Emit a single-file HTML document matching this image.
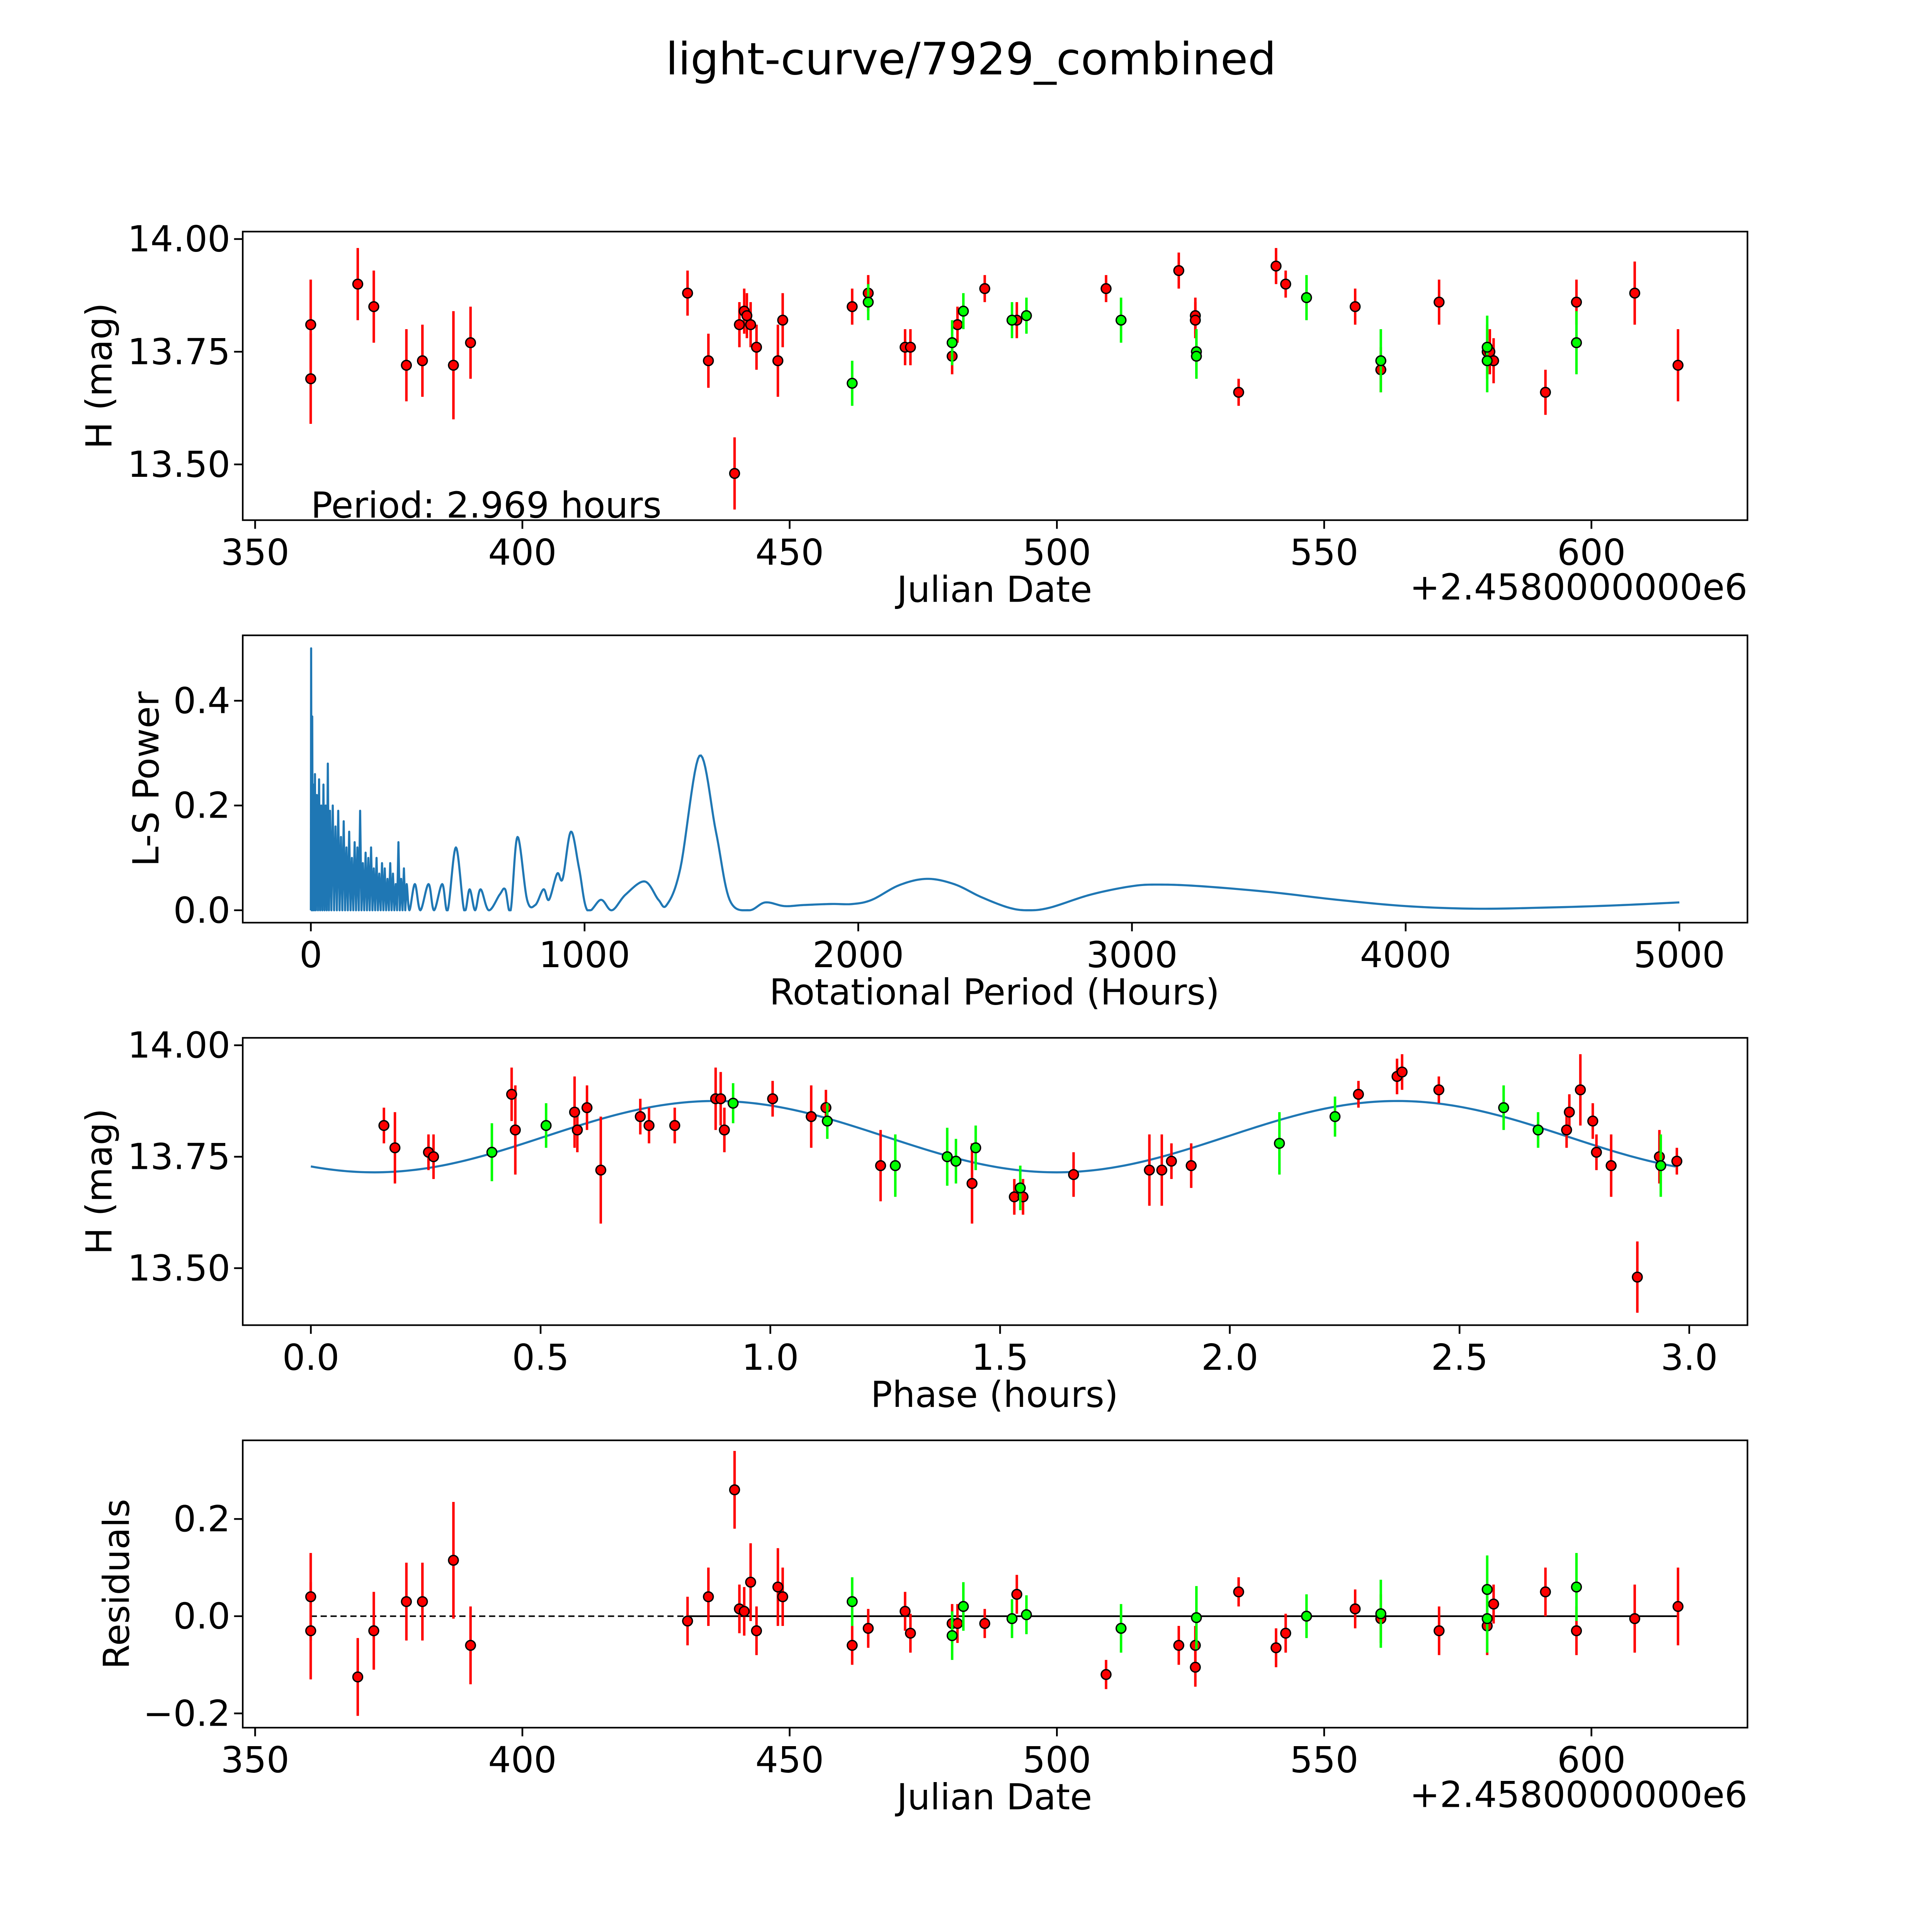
<!DOCTYPE html>
<html><head><meta charset="utf-8"><style>
html,body{margin:0;padding:0;background:#fff;width:100%;height:100%;overflow:hidden}
svg{display:block;position:absolute;left:0;top:0;width:100vw;height:100vh}
text{font-family:"DejaVu Sans","Liberation Sans",sans-serif;fill:#000}
</style></head><body>
<svg id="chart" xmlns="http://www.w3.org/2000/svg" viewBox="0 0 1560 1560" preserveAspectRatio="xMidYMid meet">
<rect width="1560" height="1560" fill="#fff"/>
<text x="784" y="60" font-size="36" text-anchor="middle">light-curve/7929_combined</text>
</svg>
<script>
// ---- panel 1 data: date, mag, err ----
const redDates=[360.4,360.4,369.2,372.2,378.3,381.3,387.1,390.3,430.9,434.8,439.7,440.6,441.5,442,442.7,443.8,447.8,448.7,461.7,464.7,471.6,472.6,480.4,481.4,486.5,492.5,509.2,522.8,525.9,525.9,534,541,542.8,555.8,560.6,571.5,580.5,581,581.7,591.4,597.2,608.1,616.2];
const redMags=[13.81,13.69,13.90,13.85,13.72,13.73,13.72,13.77,13.88,13.73,13.48,13.81,13.84,13.83,13.81,13.76,13.73,13.82,13.85,13.88,13.76,13.76,13.74,13.81,13.89,13.82,13.89,13.93,13.83,13.82,13.66,13.94,13.90,13.85,13.71,13.86,13.75,13.75,13.73,13.66,13.86,13.88,13.72];
const redErrs=[0.1,0.1,0.08,0.08,0.08,0.08,0.12,0.08,0.05,0.06,0.08,0.05,0.05,0.05,0.05,0.05,0.08,0.06,0.04,0.04,0.04,0.04,0.04,0.04,0.03,0.04,0.03,0.04,0.04,0.04,0.03,0.04,0.03,0.04,0.05,0.05,0.06,0.05,0.05,0.05,0.05,0.07,0.08];
const greenDates=[461.7,464.7,480.4,482.5,491.6,494.3,512,526.1,526.1,546.7,560.6,580.5,580.5,597.2];
const greenMags=[13.68,13.86,13.77,13.84,13.82,13.83,13.82,13.75,13.74,13.87,13.73,13.76,13.73,13.77];
const greenErrs=[0.05,0.04,0.05,0.04,0.04,0.04,0.05,0.05,0.05,0.05,0.07,0.07,0.07,0.07];
// ---- panel 2: periodogram ----
const lsPeriods=[0,1,3,5,7,9,12,15,18,22,26,30,34,38,42,46,50,54,58,62,66,70,75,80,85,90,95,100,105,110,115,120,125,130,135,140,145,150,155,160,165,170,175,180,185,190,195,200,205,210,215,220,225,230,235,240,245,250,255,260,265,270,275,280,285,290,295,300,305,310,315,320,325,330,335,340,345,350,
360,380,400,430,450,480,500,530,560,580,600,620,650,690,710,730,755,790,820,850,870,900,920,950,980,1010,1060,1100,1150,1220,1270,1300,1350,1420,1480,1530,1600,1660,1730,1800,1900,1980,2050,2150,2250,2350,2450,2550,2620,2700,2850,3000,3100,3250,3500,3750,4000,4250,4500,4750,5000];
const lsPower=[0,0.5,0,0.37,0,0.24,0,0.26,0,0.22,0,0.25,0,0.2,0,0.24,0,0.2,0,0.28,0,0.19,0,0.2,0,0.16,0,0.19,0,0.14,0,0.17,0,0.12,0,0.15,0,0.1,0,0.13,0,0.12,0,0.19,0,0.09,0,0.11,0,0.1,0,0.12,0,0.08,0,0.1,0,0.07,0,0.09,0,0.08,0,0.06,0,0.09,0,0.07,0,0.05,0,0.13,0,0.06,0,0.08,0,0.05,
0,0.05,0,0.05,0,0.05,0,0.12,0,0.04,0,0.04,0,0.03,0.04,0,0.14,0.02,0.01,0.04,0.02,0.07,0.06,0.15,0.08,0,0.02,0,0.03,0.055,0.02,0.01,0.08,0.295,0.15,0.02,0,0.015,0.008,0.01,0.012,0.012,0.02,0.048,0.06,0.05,0.025,0.005,0,0.005,0.03,0.046,0.049,0.046,0.035,0.02,0.008,0.003,0.005,0.009,0.015];
// ---- panel 3: phase-folded ----
const redPhases=[0.159,0.183,0.256,0.267,0.437,0.445,0.574,0.58,0.601,0.631,0.717,0.736,0.792,0.881,0.892,0.9,1.005,1.089,1.121,1.24,1.439,1.531,1.55,1.66,1.825,1.852,1.873,1.916,2.28,2.364,2.375,2.455,2.733,2.739,2.763,2.79,2.798,2.83,2.887,2.935,2.973];
const redPhaseMags=[13.82,13.77,13.76,13.75,13.89,13.81,13.85,13.81,13.86,13.72,13.84,13.82,13.82,13.88,13.88,13.81,13.88,13.84,13.86,13.73,13.69,13.66,13.66,13.71,13.72,13.72,13.74,13.73,13.89,13.93,13.94,13.90,13.81,13.85,13.90,13.83,13.76,13.73,13.48,13.75,13.74];
const redPhaseErrs=[0.04,0.08,0.04,0.05,0.06,0.1,0.08,0.05,0.05,0.12,0.04,0.04,0.04,0.07,0.06,0.05,0.04,0.07,0.04,0.08,0.09,0.04,0.04,0.05,0.08,0.08,0.04,0.05,0.03,0.04,0.04,0.03,0.04,0.04,0.08,0.04,0.04,0.07,0.08,0.06,0.03];
const greenPhases=[0.394,0.512,0.919,1.124,1.272,1.385,1.404,1.447,1.544,2.108,2.229,2.596,2.671,2.938];
const greenPhaseMags=[13.76,13.82,13.87,13.83,13.73,13.75,13.74,13.77,13.68,13.78,13.84,13.86,13.81,13.73];
const greenPhaseErrs=[0.065,0.05,0.045,0.04,0.07,0.065,0.05,0.05,0.05,0.07,0.045,0.05,0.04,0.07];
const modelParams=[13.795,0.08,0.88,2.969]; // mean, amp, peak phase, period
// ---- panel 4: residuals ----
const redResDates=[360.4,360.4,369.2,372.2,378.3,381.3,387.1,390.3,430.9,434.8,439.7,440.6,441.5,442.7,443.8,447.8,448.7,461.7,464.7,471.6,472.6,480.4,481.4,486.5,492.5,509.2,522.8,525.9,525.9,534,541,542.8,555.8,560.6,571.5,580.5,581.7,591.4,597.2,608.1,616.2];
const redRes=[0.04,-0.03,-0.125,-0.03,0.03,0.03,0.115,-0.06,-0.01,0.04,0.26,0.015,0.01,0.07,-0.03,0.06,0.04,-0.06,-0.025,0.01,-0.035,-0.015,-0.015,-0.015,0.045,-0.12,-0.06,-0.06,-0.105,0.05,-0.065,-0.035,0.015,-0.005,-0.03,-0.02,0.025,0.05,-0.03,-0.005,0.02];
const redResErrs=[0.09,0.1,0.08,0.08,0.08,0.08,0.12,0.08,0.05,0.06,0.08,0.05,0.05,0.08,0.05,0.08,0.06,0.04,0.04,0.04,0.04,0.04,0.04,0.03,0.04,0.03,0.04,0.04,0.04,0.03,0.04,0.04,0.04,0.05,0.05,0.06,0.04,0.05,0.05,0.07,0.08];
const greenResDates=[461.7,480.4,482.5,491.6,494.3,512,526.1,546.7,560.6,580.5,580.5,597.2];
const greenRes=[0.03,-0.04,0.02,-0.005,0.003,-0.025,-0.003,0,0.005,0.055,-0.005,0.06];
const greenResErrs=[0.05,0.05,0.05,0.04,0.04,0.05,0.065,0.045,0.07,0.07,0.07,0.07];

const NS='http://www.w3.org/2000/svg';
const svg=document.getElementById('chart');
function mk(tag,attrs,parent){const e=document.createElementNS(NS,tag);for(const k in attrs)e.setAttribute(k,attrs[k]);(parent||svg).appendChild(e);return e;}

const dateX=d=>206+(d-350)*4.316;
const panels=[
 {id:'lightcurve',y0:187,y1:420,xs:dateX,ys:m=>193+(14-m)*364,xt:[350,400,450,500,550,600],xl:v=>String(v),yt:[13.5,13.75,14.0],yl:v=>v.toFixed(2),xlab:'Julian Date',ylab:'H (mag)',ylx:90,off:true},
 {id:'periodogram',y0:513,y1:745,xs:p=>251+p*0.221,ys:v=>735-v*423,xt:[0,1000,2000,3000,4000,5000],xl:v=>String(v),yt:[0,0.2,0.4],yl:v=>v.toFixed(1),xlab:'Rotational Period (Hours)',ylab:'L-S Power',ylx:128},
 {id:'phased',y0:838,y1:1070,xs:p=>251+p*371,ys:m=>844+(14-m)*360,xt:[0,0.5,1,1.5,2,2.5,3],xl:v=>v.toFixed(1),yt:[13.5,13.75,14.0],yl:v=>v.toFixed(2),xlab:'Phase (hours)',ylab:'H (mag)',ylx:90},
 {id:'residuals',y0:1163,y1:1395,xs:dateX,ys:r=>1305-r*392.5,xt:[350,400,450,500,550,600],xl:v=>String(v),yt:[-0.2,0,0.2],yl:v=>(v<0?'\u2212':'')+Math.abs(v).toFixed(1),xlab:'Julian Date',ylab:'Residuals',ylx:104,off:true}
];
const X0=196,X1=1411;
panels.forEach(p=>{
 const g=mk('g',{});
 
 
 p.g=g;
});
function axes(p){
 const g=p.g;
 p.xt.forEach(v=>{const x=p.xs(v);
  const t=mk('line',{x1:x,x2:x,y1:p.y1,y2:p.y1+7,stroke:'#000','stroke-width':1.4},g);
  
  
  const l=mk('text',{x:x,y:p.y1+36,'font-size':29,'text-anchor':'middle'},g);l.textContent=p.xl(v);
  
  
 });
 p.yt.forEach(v=>{const y=p.ys(v);
  const t=mk('line',{x1:X0-7,x2:X0,y1:y,y2:y,stroke:'#000','stroke-width':1.4},g);
  
  
  const l=mk('text',{x:X0-10,y:y+10,'font-size':29,'text-anchor':'end'},g);l.textContent=p.yl(v);
  
  
 });
 const xl=mk('text',{x:803,y:p.y1+66,'font-size':29,'text-anchor':'middle'},g);xl.textContent=p.xlab;
 
 
 const cy=(p.y0+p.y1)/2;
 const yl=mk('text',{x:p.ylx,y:cy,'font-size':29,'text-anchor':'middle',transform:`rotate(-90 ${p.ylx} ${cy})`},g);yl.textContent=p.ylab;
 
 
 if(p.off){const o=mk('text',{x:X1,y:p.y1+64,'font-size':29,'text-anchor':'end'},g);o.textContent='+2.4580000000e6';
  
  }
}
function frame(p){const r=mk('rect',{x:X0,y:p.y0,width:X1-X0,height:p.y1-p.y0,fill:'none',stroke:'#000','stroke-width':1.3},p.g);
 
 }
function points(p,xs,ys,es,col,name){
 xs.forEach((d,i)=>{const x=p.xs(d);
  const e=mk('line',{x1:x,x2:x,y1:p.ys(ys[i]-es[i]),y2:p.ys(ys[i]+es[i]),stroke:col,'stroke-width':2},p.g);
  
  
 });
 xs.forEach((d,i)=>{
  const c=mk('circle',{cx:p.xs(d),cy:p.ys(ys[i]),r:3.9,fill:col,stroke:'#000','stroke-width':1.1},p.g);
  
  
 });
}
panels.forEach(axes);
const [P1,P2,P3,P4]=panels;
points(P1,redDates,redMags,redErrs,'#ff0000','red-observation');
points(P1,greenDates,greenMags,greenErrs,'#00ff00','green-observation');
const pt=mk('text',{x:251,y:418,'font-size':29},P1.g);pt.textContent='Period: 2.969 hours';


(function(){
 let d='';const n=lsPeriods.length;
 for(let i=0;i<n;i++){
  if(lsPeriods[i]<=350){d+=(i?'L':'M')+P2.xs(lsPeriods[i]).toFixed(2)+','+P2.ys(lsPower[i]).toFixed(2);continue;}
  const i0=Math.max(i-2,0),i1=i-1,i2=i,i3=Math.min(i+1,n-1);
  for(let s=1;s<=12;s++){const t=s/12;
   const cr=(a,b,c,e)=>0.5*((2*b)+(-a+c)*t+(2*a-5*b+4*c-e)*t*t+(-a+3*b-3*c+e)*t*t*t);
   const px=cr(lsPeriods[i0],lsPeriods[i1],lsPeriods[i2],lsPeriods[i3]);
   const py=Math.max(0,cr(lsPower[i0],lsPower[i1],lsPower[i2],lsPower[i3]));
   d+='L'+P2.xs(px).toFixed(2)+','+P2.ys(py).toFixed(2);}
 }
 const l=mk('path',{d:d,fill:'none',stroke:'#1f77b4','stroke-width':1.7,'stroke-linejoin':'round'},P2.g);
 
 
})();
(function(){
 const [m0,a,pk,per]=modelParams;let d='';
 for(let i=0;i<=300;i++){const t=i/300*2.97;const v=m0+a*Math.cos(2*Math.PI*2*(t-pk)/per);
  d+=(i?'L':'M')+P3.xs(t).toFixed(2)+','+P3.ys(v).toFixed(2);}
 const l=mk('path',{d:d,fill:'none',stroke:'#1f77b4','stroke-width':1.7},P3.g);
 
 
})();
points(P3,redPhases,redPhaseMags,redPhaseErrs,'#ff0000','red-phased');
points(P3,greenPhases,greenPhaseMags,greenPhaseErrs,'#00ff00','green-phased');
const zd=mk('line',{x1:P4.xs(360.4),x2:P4.xs(616.2),y1:P4.ys(0),y2:P4.ys(0),stroke:'#000','stroke-width':1.2,'stroke-dasharray':'5,3'},P4.g);


const zs=mk('line',{x1:P4.xs(430.9),x2:P4.xs(616.2),y1:P4.ys(0),y2:P4.ys(0),stroke:'#000','stroke-width':1.4},P4.g);


points(P4,redResDates,redRes,redResErrs,'#ff0000','red-residual');
points(P4,greenResDates,greenRes,greenResErrs,'#00ff00','green-residual');
panels.forEach(frame);
</script>
</body></html>
